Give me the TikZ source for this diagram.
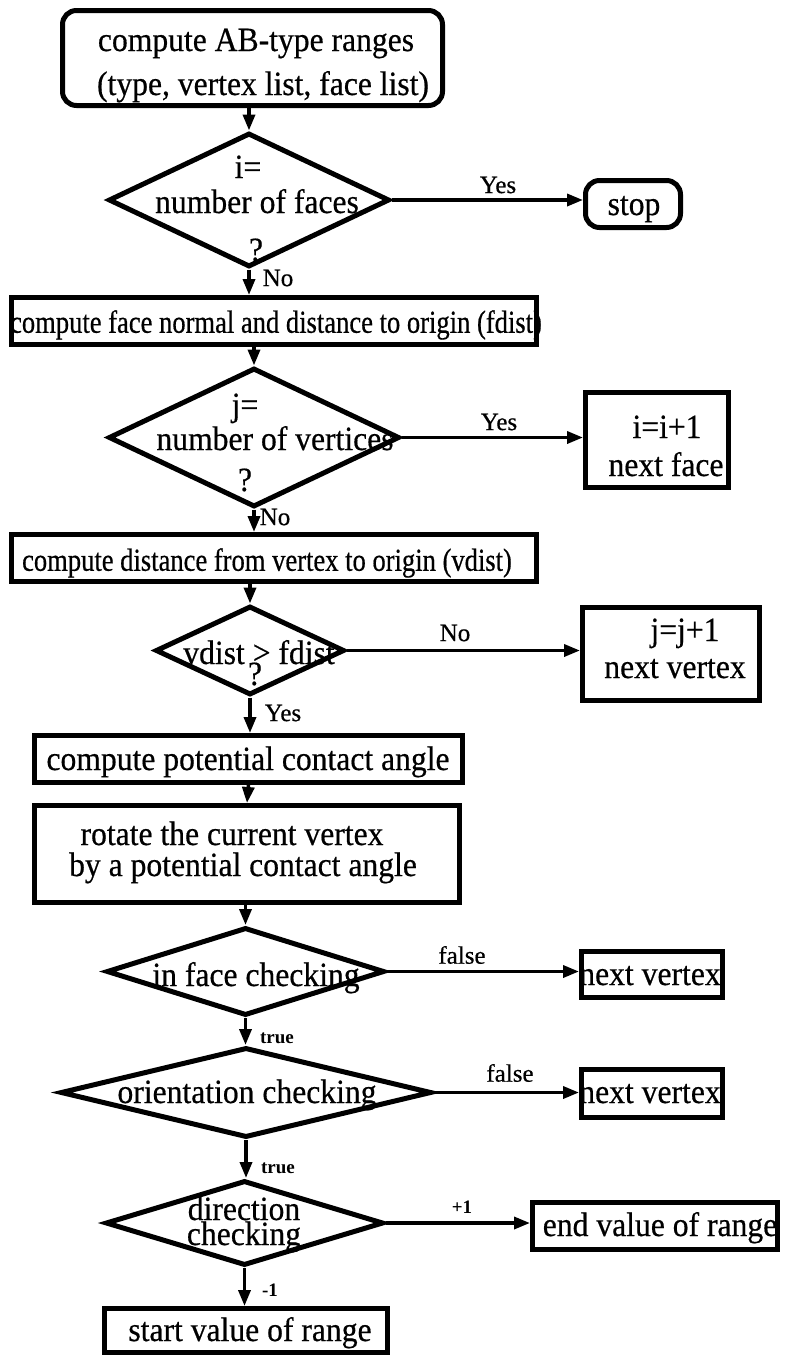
\documentclass[tikz,border=0pt]{standalone}
\usepackage{fontspec}
\setmainfont{Liberation Serif}
\newfontfamily\mfont{Liberation Serif}[FakeStretch=0.93, FakeBold=0.5]
\newfontfamily\nfont{Liberation Serif}[FakeStretch=0.83, FakeBold=0.5]
\newfontfamily\lfont{Liberation Serif}[FakeBold=0.5]
\usetikzlibrary{shapes.geometric,arrows.meta}
\begin{document}
\begin{tikzpicture}[x=1pt,y=-1pt,
  box/.style={draw, rectangle, line width=5pt, inner sep=0pt},
  rbox/.style={box, rounded corners=14pt},
  dia/.style={draw, diamond, line width=5pt, inner sep=0pt},
  txt/.style={font={\mfont\fontsize{34}{36}\selectfont}, inner sep=0pt, text height=23pt, text depth=7pt},
  ntxt/.style={font={\nfont\fontsize{32}{34}\selectfont}, inner sep=0pt, text height=22pt, text depth=6.5pt},
  lab/.style={font={\lfont\fontsize{25}{30}\selectfont}, inner sep=0pt},
  slab/.style={font={\bfseries\fontsize{19}{23}\selectfont}, inner sep=0pt},
  arr/.style={line width=3.5pt, -{Triangle[length=16pt,width=12pt]}}]
\useasboundingbox (0,0) rectangle (787,1357);

% shapes
\node[rbox, minimum width=380pt, minimum height=95pt] (s) at (252.5,58) {};
\node[dia, minimum width=281pt, minimum height=134pt] (d1) at (249,200) {};
\node[rbox, minimum width=95pt, minimum height=47pt] (stop) at (633,204) {};
\node[box, minimum width=525pt, minimum height=47pt] (fd) at (274,321) {};
\node[dia, minimum width=291pt, minimum height=139pt] (d2) at (254,437.5) {};
\node[box, minimum width=143pt, minimum height=95pt] (inc) at (657,440) {};
\node[box, minimum width=525pt, minimum height=47pt] (vd) at (274,558) {};
\node[dia, minimum width=189pt, minimum height=89pt] (d3) at (250,650.5) {};
\node[box, minimum width=177pt, minimum height=93pt] (jb) at (671,654) {};
\node[box, minimum width=428pt, minimum height=47pt] (pot) at (248.5,759) {};
\node[box, minimum width=425pt, minimum height=97pt] (rot) at (247,854) {};
\node[dia, minimum width=278pt, minimum height=88pt] (d4) at (245.5,971.5) {};
\node[box, minimum width=141pt, minimum height=46pt] (nv1) at (652,974.5) {};
\node[dia, minimum width=371pt, minimum height=90pt] (d5) at (246,1092.5) {};
\node[box, minimum width=141pt, minimum height=48pt] (nv2) at (652,1093.5) {};
\node[dia, minimum width=278pt, minimum height=85pt] (d6) at (244.5,1223) {};
\node[box, minimum width=245pt, minimum height=47pt] (endb) at (655,1226) {};
\node[box, minimum width=283pt, minimum height=44pt] (stb) at (246,1330.5) {};

% texts
\node[txt] (s1) at (256,43) {compute AB-type ranges};
\node[txt] (s2) at (263,87) {(type, vertex list, face list)};
\node[txt] (d1a) at (248,170) {i=};
\node[txt] (d1b) at (257,205) {number of faces};
\node[txt] (d1c) at (256,253) {?};
\node[txt] (stopt) at (634,207) {stop};
\node[ntxt] (fdt) at (276,325) {compute face normal and distance to origin (fdist)};
\node[txt] (d2a) at (245,408) {j=};
\node[txt] (d2b) at (275,442) {number of vertices};
\node[txt] (d2c) at (245,483) {?};
\node[txt] (inc1) at (667,430) {i=i+1};
\node[txt] (inc2) at (666,468) {next face};
\node[ntxt] (vdt) at (267,563) {compute distance from vertex to origin (vdist)};
\node[txt] (d3a) at (259,656) {vdist > fdist};
\node[txt] (d3b) at (255,677) {?};
\node[txt] (jb1) at (685,633) {j=j+1};
\node[txt] (jb2) at (675,670) {next vertex};
\node[txt] (pott) at (248,762) {compute potential contact angle};
\node[txt] (rot1) at (232,837) {rotate the current vertex};
\node[txt] (rot2) at (243,868) {by a potential contact angle};
\node[txt] (d4t) at (256,978) {in face checking};
\node[txt] (nv1t) at (650,977) {next vertex};
\node[txt] (d5t) at (247,1095) {orientation checking};
\node[txt] (nv2t) at (650,1095) {next vertex};
\node[txt] (d6a) at (244,1212) {direction};
\node[txt] (d6b) at (244,1237) {checking};
\node[txt] (endt) at (660,1228) {end value of range};
\node[txt] (stt) at (250,1333) {start value of range};

% connectors
\draw[arr] (d1.north |- s.south) -- (d1.north);
\draw[arr] (d1.east) -- (d1.east -| stop.west);
\draw[arr] (d1.south) -- (d1.south |- fd.north);
\draw[arr] (d2.north |- fd.south) -- (d2.north);
\draw[arr] (d2.east) -- (d2.east -| inc.west);
\draw[arr] (d2.south) -- (d2.south |- vd.north);
\draw[arr] (d3.north |- vd.south) -- (d3.north);
\draw[arr] (d3.east) -- (d3.east -| jb.west);
\draw[arr] (d3.south) -- (d3.south |- pot.north);
\draw[arr] (pot.south) -- (rot.north);
\draw[arr] (d4.north |- rot.south) -- (d4.north);
\draw[arr] (d4.east) -- (d4.east -| nv1.west);
\draw[arr] (d4.south) -- (d4.south |- d5.north);
\draw[arr] (d5.east) -- (d5.east -| nv2.west);
\draw[arr] (d5.south) -- (d5.south |- d6.north);
\draw[arr] (d6.east) -- (d6.east -| endb.west);
\draw[arr] (d6.south) -- (d6.south |- stb.north);

% labels
\node[lab] (y1) at (498,185) {Yes};
\node[lab] (n1) at (278,278) {No};
\node[lab] (y2) at (499,422) {Yes};
\node[lab] (n2) at (275,517) {No};
\node[lab] (n3) at (455,633) {No};
\node[lab] (y3) at (283,713) {Yes};
\node[lab] (f1) at (462,955) {false};
\node[slab] (t1) at (277,1038) {true};
\node[lab] (f2) at (510,1073) {false};
\node[slab] (t2) at (278,1168) {true};
\node[slab] (p1) at (462,1207) {+1};
\node[slab] (m1) at (270,1290) {-1};
\end{tikzpicture}
\end{document}
